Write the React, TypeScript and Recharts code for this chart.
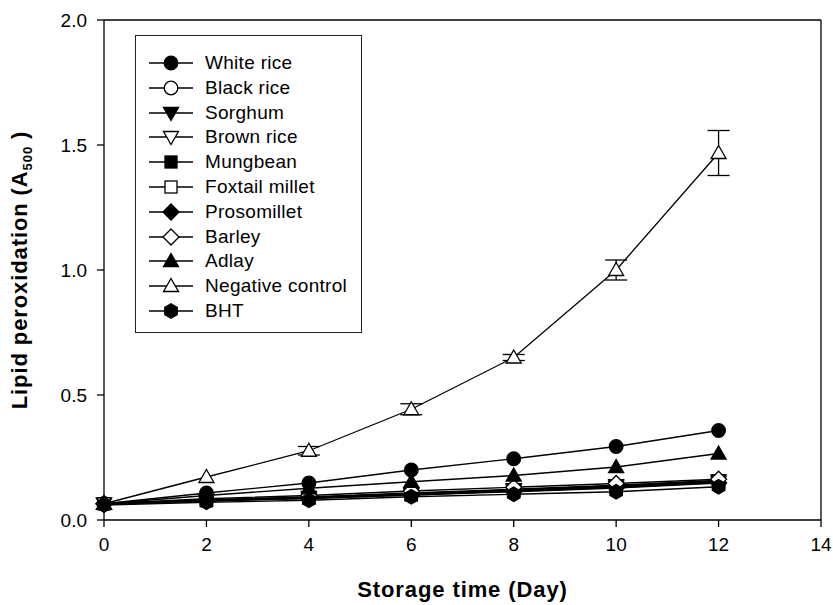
import React from "react";
import { ErrorBar, Legend, Line, LineChart, ReferenceLine, XAxis, YAxis } from "recharts";

const FONT = '"Liberation Sans", Arial, Helvetica, sans-serif';

// storage time in days
const days = [0, 2, 4, 6, 8, 10, 12];

// lipid peroxidation (A500) per sample
const whiteRice = [0.065, 0.108, 0.148, 0.2, 0.245, 0.294, 0.358];
const blackRice = [0.065, 0.08, 0.09, 0.105, 0.12, 0.136, 0.155];
const sorghum = [0.065, 0.078, 0.088, 0.103, 0.118, 0.133, 0.152];
const brownRice = [0.065, 0.081, 0.092, 0.108, 0.123, 0.139, 0.158];
const mungbean = [0.065, 0.077, 0.087, 0.1, 0.115, 0.13, 0.15];
const foxtailMillet = [0.065, 0.079, 0.09, 0.106, 0.121, 0.137, 0.157];
const prosomillet = [0.065, 0.076, 0.086, 0.1, 0.113, 0.128, 0.148];
const barley = [0.065, 0.085, 0.098, 0.116, 0.131, 0.146, 0.163];
const adlay = [0.065, 0.098, 0.127, 0.153, 0.178, 0.212, 0.266];
const negativeControl = [0.065, 0.172, 0.277, 0.443, 0.65, 1.0, 1.468];
const negativeControlErr = [0, 0, 0.017, 0.022, 0.012, 0.04, 0.09];
const bht = [0.06, 0.071, 0.079, 0.093, 0.103, 0.113, 0.133];

const yTicks = [0, 0.5, 1, 1.5, 2];
const xTicks = [0, 2, 4, 6, 8, 10, 12, 14];

type Shape = "circle" | "triDown" | "square" | "diamond" | "triUp" | "hexagon";

const series: Array<{ key: string; name: string; values: number[]; shape: Shape; filled: boolean }> = [
  { key: "whiteRice", name: "White rice", values: whiteRice, shape: "circle", filled: true },
  { key: "blackRice", name: "Black rice", values: blackRice, shape: "circle", filled: false },
  { key: "sorghum", name: "Sorghum", values: sorghum, shape: "triDown", filled: true },
  { key: "brownRice", name: "Brown rice", values: brownRice, shape: "triDown", filled: false },
  { key: "mungbean", name: "Mungbean", values: mungbean, shape: "square", filled: true },
  { key: "foxtailMillet", name: "Foxtail millet", values: foxtailMillet, shape: "square", filled: false },
  { key: "prosomillet", name: "Prosomillet", values: prosomillet, shape: "diamond", filled: true },
  { key: "barley", name: "Barley", values: barley, shape: "diamond", filled: false },
  { key: "adlay", name: "Adlay", values: adlay, shape: "triUp", filled: true },
  { key: "negativeControl", name: "Negative control", values: negativeControl, shape: "triUp", filled: false },
  { key: "bht", name: "BHT", values: bht, shape: "hexagon", filled: true },
];

const data = days.map((day, i) => {
  const row: Record<string, number> = { day, ncErr: negativeControlErr[i] };
  series.forEach((s) => {
    row[s.key] = s.values[i];
  });
  return row;
});

function Marker({ cx, cy, shape, filled }: { cx: number; cy: number; shape: Shape; filled: boolean }) {
  const fill = filled ? "#000" : "#fff";
  const common = { fill, stroke: "#000", strokeWidth: 1.3 };
  switch (shape) {
    case "circle":
      return <circle cx={cx} cy={cy} r={6.8} {...common} />;
    case "square":
      return <rect x={cx - 6} y={cy - 6} width={12} height={12} {...common} />;
    case "triDown":
      return <polygon points={`${cx - 7.5},${cy - 5.5} ${cx + 7.5},${cy - 5.5} ${cx},${cy + 7.5}`} {...common} />;
    case "triUp":
      return <polygon points={`${cx},${cy - 7.5} ${cx + 7.5},${cy + 5.5} ${cx - 7.5},${cy + 5.5}`} {...common} />;
    case "diamond":
      return <polygon points={`${cx},${cy - 8} ${cx + 8},${cy} ${cx},${cy + 8} ${cx - 8},${cy}`} {...common} />;
    case "hexagon": {
      const pts = [0, 1, 2, 3, 4, 5]
        .map((k) => {
          const a = (Math.PI / 3) * k - Math.PI / 2;
          return `${cx + 7.2 * Math.cos(a)},${cy + 7.2 * Math.sin(a)}`;
        })
        .join(" ");
      return <polygon points={pts} {...common} />;
    }
  }
  return null;
}

function LegendBox() {
  return (
    <div
      style={{
        width: 227,
        height: 298,
        boxSizing: "border-box",
        border: "1.5px solid #222",
        background: "#fff",
        position: "relative",
        fontFamily: FONT,
      }}
    >
      {series.map((s, i) => (
        <div
          key={s.key}
          style={{ position: "absolute", left: 0, top: 15 + i * 24.8, height: 24, width: 225, display: "flex", alignItems: "center" }}
        >
          <svg width={66} height={24} style={{ flex: "none" }}>
            <line x1={13} x2={57} y1={12} y2={12} stroke="#000" strokeWidth={1.3} />
            <Marker cx={35} cy={12} shape={s.shape} filled={s.filled} />
          </svg>
          <span style={{ fontSize: 19, letterSpacing: 0.3, color: "#000", marginLeft: 3, whiteSpace: "nowrap" }}>{s.name}</span>
        </div>
      ))}
    </div>
  );
}

function YTitle() {
  return (
    <text
      x={27}
      y={270}
      transform="rotate(-90 27 270)"
      textAnchor="middle"
      fontFamily={FONT}
      fontSize={22}
      fontWeight="bold"
      letterSpacing={0.9}
      fill="#000"
    >
      Lipid peroxidation (A
      <tspan fontSize={13} dy={5}>
        500
      </tspan>
      <tspan dy={-5}> )</tspan>
    </text>
  );
}

export default function App() {
  return (
    <div style={{ position: "absolute", left: 0, top: 0, width: 833, height: 605, background: "#fff" }}>
      <LineChart width={833} height={605} data={data} margin={{ top: 20, right: 12, bottom: 25, left: 0 }}>
        <XAxis
          dataKey="day"
          type="number"
          domain={[0, 14]}
          ticks={xTicks}
          interval={0}
          height={60}
          tickSize={7}
          tickMargin={11}
          axisLine={{ stroke: "#000", strokeWidth: 1.3 }}
          tickLine={{ stroke: "#000", strokeWidth: 1.3 }}
          tick={{ fill: "#000", fontSize: 19, fontFamily: FONT }}
          label={{
            value: "Storage time (Day)",
            position: "insideBottom",
            offset: -17,
            fill: "#000",
            fontSize: 22,
            fontWeight: "bold",
            fontFamily: FONT,
            letterSpacing: 0.9,
          }}
        />
        <YAxis
          type="number"
          domain={[0, 2]}
          ticks={yTicks}
          interval={0}
          width={104}
          tickSize={7}
          tickMargin={10}
          tickFormatter={(v: number) => v.toFixed(1)}
          axisLine={{ stroke: "#000", strokeWidth: 1.3 }}
          tickLine={{ stroke: "#000", strokeWidth: 1.3 }}
          tick={{ fill: "#000", fontSize: 19, fontFamily: FONT }}
          label={{ content: () => <YTitle /> }}
        />
        <ReferenceLine y={2} stroke="#000" strokeWidth={1.3} />
        <ReferenceLine x={14} stroke="#000" strokeWidth={1.3} />
        <Legend
          layout="vertical"
          align="center"
          verticalAlign="middle"
          content={() => <LegendBox />}
          wrapperStyle={{ left: 135, top: 35, width: 227, height: 298 }}
        />
        {series.map((s) => (
          <Line
            key={s.key}
            dataKey={s.key}
            name={s.name}
            type="linear"
            stroke="#000"
            strokeWidth={1.3}
            isAnimationActive={false}
            dot={(p: any) => <Marker key={`${s.key}-${p.index}`} cx={p.cx} cy={p.cy} shape={s.shape} filled={s.filled} />}
            activeDot={false}
          >
            {s.key === "negativeControl" && (
              <ErrorBar dataKey="ncErr" width={11} stroke="#000" strokeWidth={1.3} direction="y" />
            )}
          </Line>
        ))}
      </LineChart>
    </div>
  );
}
